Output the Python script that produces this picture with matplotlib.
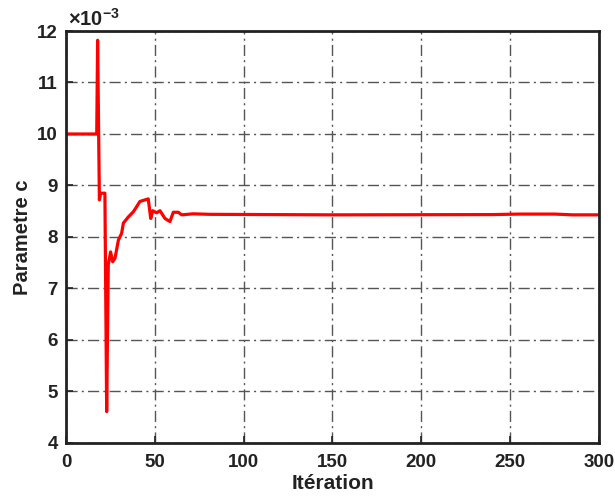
import numpy as np
import matplotlib
matplotlib.use("Agg")
import matplotlib.pyplot as plt

# Parameter c estimate over iterations, in units of 1e-3
iterations = [0, 17.3, 17.8, 18.8, 19.5, 21.9, 22.9, 23.8, 25.1, 26.3, 27.6,
              29.5, 31.3, 32.3, 35.1, 37.9, 39.8, 41.6, 46.3, 47.7, 48.8,
              51.0, 52.9, 55.7, 58.5, 60.4, 63.2, 65.1, 71.6, 81.0, 150,
              240, 255, 275, 285, 300]
param_c = [10.0, 10.0, 11.82, 8.72, 8.85, 8.85, 4.61, 7.46, 7.71, 7.52, 7.59,
           7.94, 8.07, 8.27, 8.39, 8.49, 8.59, 8.69, 8.74, 8.36, 8.51,
           8.47, 8.51, 8.36, 8.30, 8.48, 8.48, 8.43, 8.45, 8.44, 8.43,
           8.435, 8.445, 8.445, 8.43, 8.43]

plt.rcParams['font.family'] = ['Liberation Sans', 'DejaVu Sans']
plt.rcParams['font.weight'] = 'bold'
plt.rcParams['mathtext.fontset'] = 'custom'
plt.rcParams['mathtext.rm'] = 'Liberation Sans:bold'
plt.rcParams['mathtext.bf'] = 'Liberation Sans:bold'

fig = plt.figure(figsize=(6.15, 4.96), dpi=100)
ax = fig.add_axes([0.1073, 0.1069, 0.8667, 0.8306])

ax.plot(iterations, param_c, color='#ff0000', linewidth=2.3)

ax.set_xlim(0, 300)
ax.set_ylim(4, 12)
ax.set_xticks(np.arange(0, 301, 50))
ax.set_yticks(np.arange(4, 13, 1))

# exponent label above the axes
ax.text(0.004, 1.012, r'$\times\mathrm{10}^{\mathrm{-3}}$', transform=ax.transAxes,
        fontsize=14.5, color='#222222', ha='left', va='baseline')

ax.grid(True, linestyle=(0, (8, 3, 1.5, 3)), color='#555555', linewidth=1.0)
ax.tick_params(direction='in', length=5, width=1.2, labelsize=13.5, colors='#222222')
ax.tick_params(axis='x', pad=8)
ax.tick_params(axis='y', pad=6)
for lbl in ax.get_xticklabels() + ax.get_yticklabels():
    lbl.set_fontweight('bold')
for s in ax.spines.values():
    s.set_linewidth(2)
    s.set_color('#222222')

ax.set_xlabel('Itération', fontsize=15, fontweight='bold', color='#222222')
ax.set_ylabel('Parametre c', fontsize=14.5, fontweight='bold', color='#222222')
ax.xaxis.set_label_coords(0.5, -0.075)
ax.yaxis.set_label_coords(-0.064, 0.5)

fig.savefig('out.png', dpi=100)
